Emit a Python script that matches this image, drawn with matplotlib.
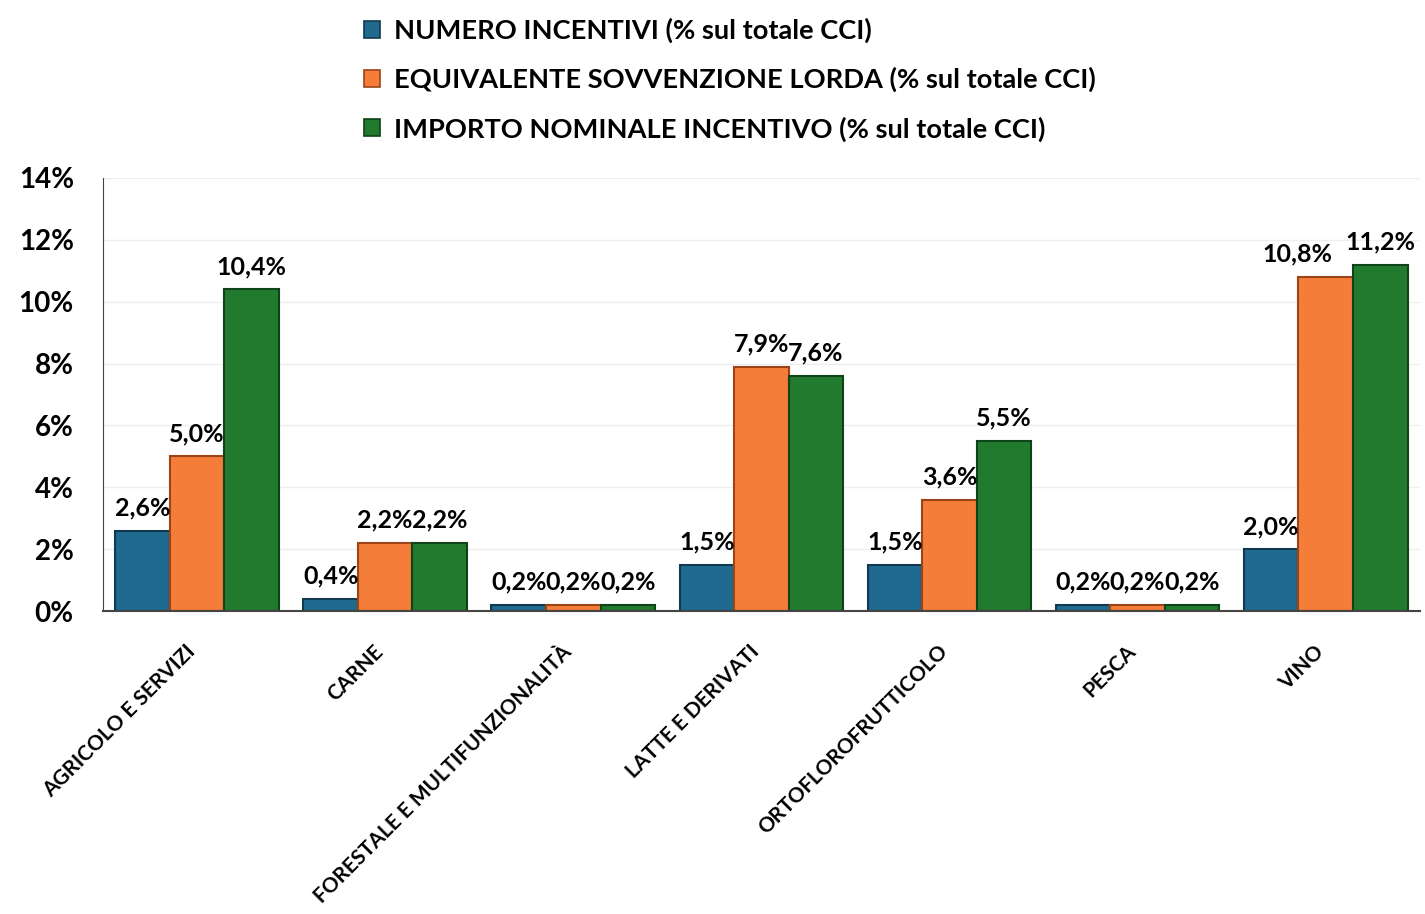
import matplotlib
matplotlib.use("Agg")
import matplotlib.pyplot as plt
import matplotlib.transforms as mtransforms
import numpy as np
from matplotlib.patches import Patch

plt.rcParams['font.family'] = ['Lato', 'DejaVu Sans']
plt.rcParams['font.weight'] = 'bold'

categories = ["AGRICOLO E SERVIZI", "CARNE", "FORESTALE E MULTIFUNZIONALITÀ",
              "LATTE E DERIVATI", "ORTOFLOROFRUTTICOLO", "PESCA", "VINO"]
numero = [2.6, 0.4, 0.2, 1.5, 1.5, 0.2, 2.0]
equivalente = [5.0, 2.2, 0.2, 7.9, 3.6, 0.2, 10.8]
importo = [10.4, 2.2, 0.2, 7.6, 5.5, 0.2, 11.2]

series_names = ["NUMERO INCENTIVI (% sul totale CCI)",
                "EQUIVALENTE SOVVENZIONE LORDA (% sul totale CCI)",
                "IMPORTO NOMINALE INCENTIVO (% sul totale CCI)"]
colors = ["#1f6a8e", "#f47d3a", "#217a2e"]
edges = ["#0f3a50", "#9a4418", "#0f4318"]

fig = plt.figure(figsize=(14.25, 9.14), dpi=100)
ax = fig.add_axes([0.0723, 0.3315, 0.924, 0.4738])

x = np.arange(len(categories))
w = 0.29
for i, vals in enumerate([numero, equivalente, importo]):
    pos = x + (i - 1) * w
    ax.bar(pos, vals, width=w, color=colors[i], edgecolor=edges[i], linewidth=1.5)
    for j, (px, v) in enumerate(zip(pos, vals)):
        # the VINO orange label sits a bit to the left in the original
        dx = -20 if (i == 1 and j == len(categories) - 1) else 0
        ax.annotate(f"{v:.1f}%".replace(".", ","), (px, v), xytext=(dx, 8),
                    textcoords='offset points', ha='center', va='bottom',
                    fontsize=18, fontweight='bold')

ax.set_xlim(-0.5, len(categories) - 0.5)
ax.set_ylim(0, 14)
ax.set_yticks(np.arange(0, 15, 2))
ax.set_yticklabels([f"{t}%" for t in range(0, 15, 2)], fontsize=20, fontweight='bold')
ax.tick_params(axis='y', length=0, pad=21)
ax.set_xticks(x)
ax.set_xticklabels(categories, rotation=45, ha='right', va='top', rotation_mode='anchor',
                   fontsize=15, fontweight='bold')
ax.tick_params(axis='x', length=0, pad=22)
shift = mtransforms.ScaledTranslation(-12 / 100, 0, fig.dpi_scale_trans)
for lab in ax.get_xticklabels():
    lab.set_transform(lab.get_transform() + shift)
ax.grid(axis='y', color='#eeeeee', linewidth=1)
ax.set_axisbelow(True)
for s in ['top', 'right']:
    ax.spines[s].set_visible(False)
ax.spines['left'].set_color('#444444')
ax.spines['bottom'].set_color('#444444')
ax.spines['bottom'].set_linewidth(1.5)

handles = [Patch(facecolor=c, edgecolor=e, linewidth=1.2) for c, e in zip(colors, edges)]
fig.legend(handles, series_names, loc='upper left', bbox_to_anchor=(0.243, 1.0),
           frameon=False, handlelength=0.6, handleheight=0.6, borderpad=0.15,
           handletextpad=0.5, labelspacing=0.88, prop={'weight': 'bold', 'size': 19.6})

fig.savefig("out.png", dpi=100)
